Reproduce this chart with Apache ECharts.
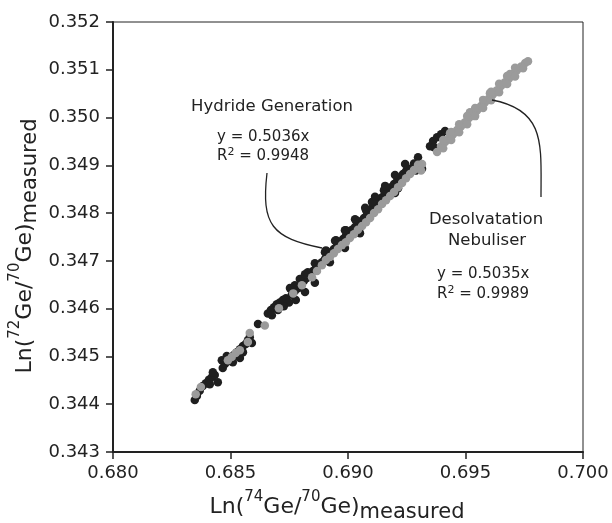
<!DOCTYPE html>
<html><head><meta charset="utf-8">
<script src="https://cdn.jsdelivr.net/npm/echarts@6/dist/echarts.min.js"></script>
<style>html,body{margin:0;padding:0;background:#fff}#c{width:612px;height:523px}</style>
</head><body><div id="c"></div>
<script>
const xTickLabels = ['0.680','0.685','0.690','0.695','0.700'];
const yTickLabels = ['0.343','0.344','0.345','0.346','0.347','0.348','0.349','0.350','0.351','0.352'];

// Hydride Generation (black)
const hydrideX = [0.68348,0.68357,0.68369,0.68382,0.68395,0.68408,0.68421,0.68433,0.68446,0.68412,0.68425,
0.68467,0.68476,0.68489,0.68501,0.68514,0.68527,0.68540,0.68553,0.68484,0.68510,0.68540,0.68553,0.68463,
0.68565,0.68574,0.68582,0.68591,0.68617,
0.68659,0.68672,0.68685,0.68697,0.68710,0.68723,0.68736,0.68749,0.68676,0.68702,0.68727,
0.68761,0.68774,0.68787,0.68800,0.68812,0.68825,0.68838,0.68851,0.68864,0.68876,0.68778,0.68817,0.68859,0.68753,0.68795,0.68829,
0.68889,0.68902,0.68915,0.68927,0.68940,0.68953,0.68966,0.68979,0.68991,0.69004,0.69017,0.69030,0.69043,0.69055,0.69068,0.69081,0.69094,
0.68906,0.68949,0.68991,0.69034,0.69077,0.68923,0.68987,0.69051,
0.69106,0.69119,0.69132,0.69145,0.69158,0.69170,0.69183,0.69196,0.69209,0.69221,0.69234,0.69247,0.69102,0.69153,0.69200,0.69213,
0.69264,0.69281,0.69298,0.69315,0.69290,
0.69349,0.69362,0.69379,0.69396,0.69413,0.69366,
0.68774,0.68817,0.68859,0.68902,0.68945,0.68987,0.69030,0.69073,0.69115,0.69158,0.69200,0.69243];
const hydrideY = [0.34409,0.34417,0.34428,0.34438,0.34444,0.34451,0.34457,0.34461,0.34446,0.34442,0.34467,
0.34476,0.34484,0.34490,0.34497,0.34503,0.34509,0.34515,0.34522,0.34501,0.34488,0.34497,0.34509,0.34492,
0.34526,0.34534,0.34540,0.34528,0.34568,
0.34590,0.34597,0.34603,0.34609,0.34613,0.34618,0.34622,0.34613,0.34586,0.34597,0.34605,
0.34629,0.34637,0.34643,0.34650,0.34658,0.34664,0.34670,0.34679,0.34685,0.34691,0.34618,0.34635,0.34654,0.34643,0.34662,0.34676,
0.34697,0.34704,0.34712,0.34718,0.34725,0.34731,0.34737,0.34746,0.34752,0.34758,0.34765,0.34771,0.34777,0.34783,0.34790,0.34796,0.34802,
0.34722,0.34743,0.34764,0.34785,0.34806,0.34697,0.34727,0.34758,
0.34814,0.34821,0.34827,0.34833,0.34840,0.34846,0.34854,0.34861,0.34867,0.34873,0.34882,0.34888,0.34823,0.34848,0.34842,0.34852,
0.34893,0.34904,0.34917,0.34893,0.34889,
0.34940,0.34951,0.34959,0.34965,0.34972,0.34938,
0.34649,0.34672,0.34695,0.34718,0.34742,0.34764,0.34787,0.34811,0.34834,0.34857,0.34880,0.34903];

// Desolvatation Nebuliser (grey)
const desolvX = [0.68352,0.68374,0.68489,0.68505,0.68522,0.68540,0.68574,0.68582,0.68646,0.68706,
0.68767,0.68804,0.68847,0.68868,0.68889,0.68906,0.68923,0.68940,0.68957,0.68974,0.68991,0.69008,0.69025,0.69042,0.69060,0.69077,0.69094,
0.69111,0.69128,0.69145,0.69162,0.69179,0.69196,0.69213,0.69230,0.69247,0.69264,0.69281,0.69298,0.69315,0.69311,
0.69379,0.69396,0.69413,0.69430,0.69447,0.69464,0.69481,0.69498,0.69515,0.69532,0.69549,0.69566,0.69583,0.69600,0.69617,0.69634,
0.69651,0.69668,0.69685,0.69702,0.69719,0.69737,0.69754,0.69766,0.69434,0.69519,0.69604,0.69689,
0.69405,0.69439,0.69473,0.69507,0.69541,0.69575,0.69609,0.69643,0.69677,0.69711,
0.69405,0.69439,0.69473,0.69507,0.69541,0.69575,0.69609,0.69643,0.69677,0.69711,0.69745];
const desolvY = [0.34421,0.34436,0.34492,0.34499,0.34507,0.34513,0.34530,0.34549,0.34565,0.34601,
0.34632,0.34649,0.34666,0.34679,0.34691,0.34702,0.34708,0.34716,0.34725,0.34733,0.34739,0.34748,0.34756,0.34765,0.34773,0.34781,0.34790,
0.34800,0.34808,0.34819,0.34827,0.34836,0.34844,0.34854,0.34863,0.34873,0.34882,0.34890,0.34901,0.34903,0.34889,
0.34928,0.34940,0.34949,0.34957,0.34965,0.34974,0.34982,0.34990,0.34999,0.35007,0.35015,0.35024,0.35032,0.35040,0.35049,0.35057,
0.35066,0.35074,0.35082,0.35091,0.35099,0.35107,0.35114,0.35118,0.34967,0.35011,0.35051,0.35091,
0.34953,0.34970,0.34986,0.35003,0.35020,0.35037,0.35054,0.35071,0.35087,0.35104,
0.34936,0.34953,0.34969,0.34986,0.35003,0.35020,0.35036,0.35053,0.35070,0.35086,0.35103];

const FONT = 'DejaVu Sans';
const INK = '#222';

const chart = echarts.init(document.getElementById('c'), null, {renderer: 'canvas'});
const pairs = (xs, ys) => xs.map((x, i) => [x, ys[i]]);

chart.setOption({
  animation: false,
  backgroundColor: '#fff',
  grid: {left: 113, right: 29, top: 22, bottom: 71, show: true, borderColor: INK, borderWidth: 1, backgroundColor: 'transparent'},
  xAxis: {
    type: 'value', min: Number(xTickLabels[0]), max: Number(xTickLabels[xTickLabels.length-1]), interval: 0.005,
    axisLine: {show: true, onZero: false, lineStyle: {color: INK, width: 2}},
    axisTick: {show: true, inside: false, length: 7, lineStyle: {color: INK, width: 1.5}},
    splitLine: {show: false},
    axisLabel: {margin: 12, color: INK, fontFamily: FONT, fontSize: 18,
      formatter: v => xTickLabels[Math.round((v - Number(xTickLabels[0])) / 0.005)] || ''}
  },
  yAxis: {
    type: 'value', min: Number(yTickLabels[0]), max: Number(yTickLabels[yTickLabels.length-1]), interval: 0.001,
    axisLine: {show: true, onZero: false, lineStyle: {color: INK, width: 2}},
    axisTick: {show: true, inside: false, length: 7, lineStyle: {color: INK, width: 1.5}},
    splitLine: {show: false},
    axisLabel: {margin: 13, color: INK, fontFamily: FONT, fontSize: 18,
      formatter: v => yTickLabels[Math.round((v - Number(yTickLabels[0])) / 0.001)] || ''}
  },
  series: [
    {name: 'Hydride Generation', type: 'scatter', data: pairs(hydrideX, hydrideY), symbol: 'circle', symbolSize: 8.5,
     itemStyle: {color: '#1f1f1f', opacity: 1}, z: 2},
    {name: 'Desolvatation Nebuliser', type: 'scatter', data: pairs(desolvX, desolvY), symbol: 'circle', symbolSize: 8.5,
     itemStyle: {color: '#9b9b9b', opacity: 1}, z: 3}
  ],
  graphic: [
    {type: 'bezierCurve', z: 10, shape: {x1: 267, y1: 173, cpx1: 261, cpy1: 225, cpx2: 272, cpy2: 238, x2: 322, y2: 248},
     style: {stroke: INK, lineWidth: 1.3, fill: null}},
    {type: 'bezierCurve', z: 10, shape: {x1: 492, y1: 100, cpx1: 546, cpy1: 110, cpx2: 541, cpy2: 145, x2: 541, y2: 197},
     style: {stroke: INK, lineWidth: 1.3, fill: null}},
    {type: 'text', x: 272, y: 107, z: 10, style: {text: 'Hydride Generation', fontFamily: FONT, fontSize: 16.5, fill: INK, align: 'center', verticalAlign: 'middle', textAlign: 'center', textVerticalAlign: 'middle'}},
    {type: 'text', x: 217, y: 137, z: 10, style: {text: 'y = 0.5036x', fontFamily: FONT, fontSize: 15, fill: INK, align: 'left', verticalAlign: 'middle', textAlign: 'left', textVerticalAlign: 'middle'}},
    {type: 'text', x: 217, y: 156, z: 10, style: {text: 'R{s|2} = 0.9948', fontFamily: FONT, fontSize: 15, fill: INK, align: 'left', verticalAlign: 'middle', textAlign: 'left', textVerticalAlign: 'middle',
      rich: {s: {fontFamily: FONT, fontSize: 11, fill: INK, color: INK, padding: [0, 0, 8, 0]}}}},
    {type: 'text', x: 486, y: 220, z: 10, style: {text: 'Desolvatation', fontFamily: FONT, fontSize: 16.5, fill: INK, align: 'center', verticalAlign: 'middle', textAlign: 'center', textVerticalAlign: 'middle'}},
    {type: 'text', x: 487, y: 241, z: 10, style: {text: 'Nebuliser', fontFamily: FONT, fontSize: 16.5, fill: INK, align: 'center', verticalAlign: 'middle', textAlign: 'center', textVerticalAlign: 'middle'}},
    {type: 'text', x: 437, y: 274, z: 10, style: {text: 'y = 0.5035x', fontFamily: FONT, fontSize: 15, fill: INK, align: 'left', verticalAlign: 'middle', textAlign: 'left', textVerticalAlign: 'middle'}},
    {type: 'text', x: 437, y: 294, z: 10, style: {text: 'R{s|2} = 0.9989', fontFamily: FONT, fontSize: 15, fill: INK, align: 'left', verticalAlign: 'middle', textAlign: 'left', textVerticalAlign: 'middle',
      rich: {s: {fontFamily: FONT, fontSize: 11, fill: INK, color: INK, padding: [0, 0, 8, 0]}}}},
    {type: 'text', x: 337, y: 507, z: 10, style: {text: 'Ln({p|74}Ge/{p|70}Ge){b|measured}', fontFamily: FONT, fontSize: 22, fill: INK,
      align: 'center', verticalAlign: 'middle', textAlign: 'center', textVerticalAlign: 'middle',
      rich: {p: {fontFamily: FONT, fontSize: 15, fill: INK, color: INK, padding: [0, 0, 19, 0]},
             b: {fontFamily: FONT, fontSize: 21, fill: INK, color: INK, padding: [11, 0, 0, 0]}}}},
    {type: 'text', x: 25, y: 246, rotation: Math.PI / 2, z: 10, style: {text: 'Ln({p|72}Ge/{p|70}Ge){b|measured}', fontFamily: FONT, fontSize: 22, fill: INK,
      align: 'center', verticalAlign: 'middle', textAlign: 'center', textVerticalAlign: 'middle',
      rich: {p: {fontFamily: FONT, fontSize: 15, fill: INK, color: INK, padding: [0, 0, 19, 0]},
             b: {fontFamily: FONT, fontSize: 21, fill: INK, color: INK, padding: [11, 0, 0, 0]}}}}
  ]
});
</script>
</body></html>
